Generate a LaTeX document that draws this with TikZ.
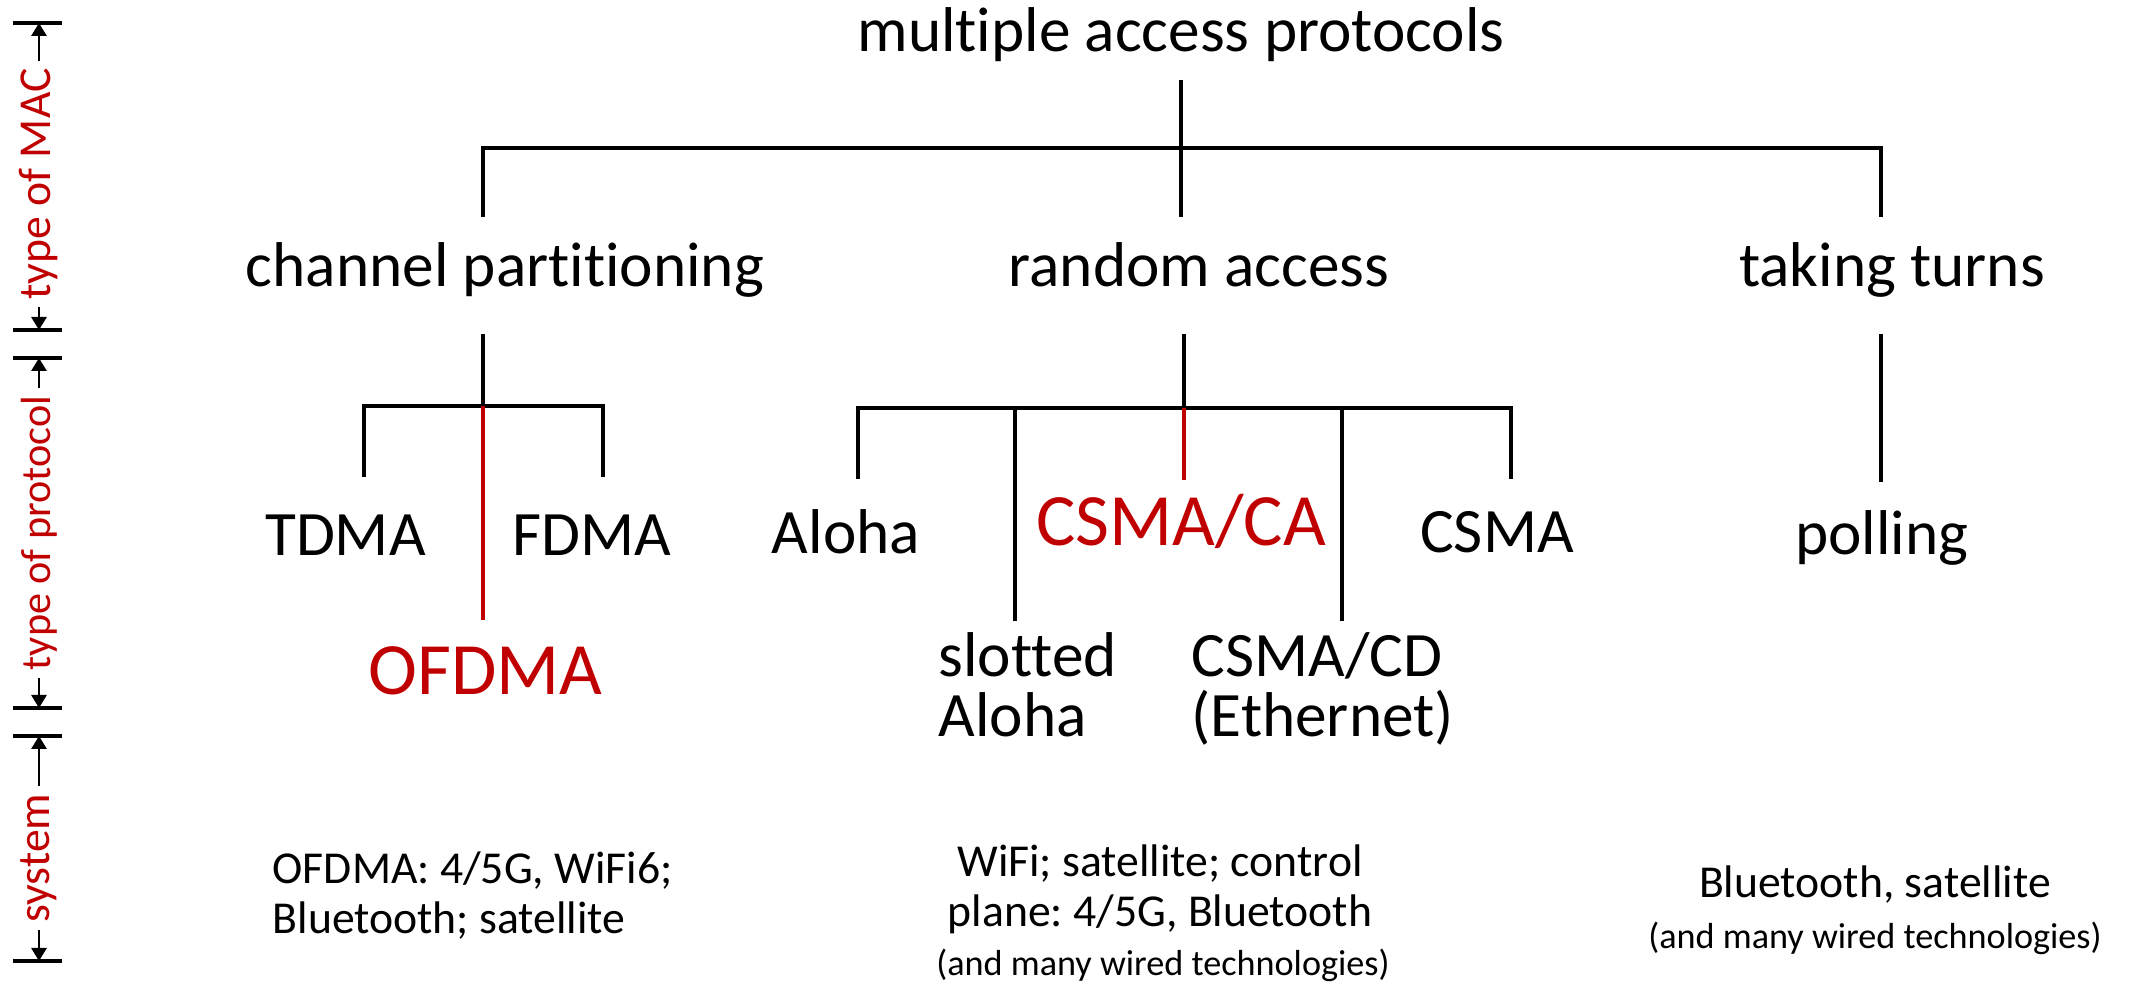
\documentclass[tikz,border=0pt]{standalone}
\usepackage{fontspec}
\setmainfont{Carlito}[Ligatures=NoCommon]
\usepackage{xcolor}
\usetikzlibrary{arrows.meta, positioning, calc}
\definecolor{macred}{RGB}{192,0,0}
\frenchspacing

\begin{document}
\begin{tikzpicture}[
  lvl/.style={font=\fontsize{18}{17.3}\selectfont, inner sep=0pt, anchor=base},
  hot/.style={font=\fontsize{21}{25}\selectfont, text=macred,
              inner sep=0pt, anchor=base},
  sys/.style={font=\fontsize{13}{14.5}\selectfont, inner sep=0pt, anchor=base},
  aside/.style={font=\fontsize{10.3}{12}\selectfont, inner sep=0pt, anchor=base},
  axis/.style={font=\fontsize{13}{15}\selectfont, text=macred,
               rotate=90, inner sep=2pt},
  tree/.style={line width=0.9pt},
  hotline/.style={tree, draw=macred},
  tick/.style={line width=0.9pt},
  dim/.style={-{Triangle[length=0.13cm,width=0.15cm]}, line width=0.8pt}
]
  \useasboundingbox (0,0) rectangle (21.44,-9.85);

  % level 1 and 2
  \node[lvl] (mac) at (11.81,-0.52) {multiple access protocols};
  \node[lvl] (part) at (5.05,-2.87) {channel partitioning};
  \node[lvl] (rand) at (11.99,-2.87) {random access};
  \node[lvl] (turns) at (18.92,-2.87) {taking turns};

  \coordinate (macDown) at (11.81,-0.80);
  \coordinate (randUp) at (11.81,-2.17);
  \coordinate (partUp) at (4.83,-2.17);
  \coordinate (turnsUp) at (18.81,-2.17);
  \draw[tree] (macDown) -- (randUp);
  \draw[tree] (partUp) -- ++(0,0.69) -| (turnsUp);

  % channel partitioning
  \node[lvl] (tdma) at (3.455,-5.56) {TDMA};
  \node[lvl] (fdma) at (5.92,-5.56) {FDMA};
  \node[hot] (ofdma) at (4.855,-6.95) {OFDMA};

  \coordinate (partDown) at (4.83,-3.34);
  \coordinate (partBar) at (4.83,-4.06);
  \coordinate (tdmaUp) at (3.64,-4.77);
  \coordinate (fdmaUp) at (6.03,-4.77);
  \coordinate (ofdmaUp) at (4.83,-6.20);
  \draw[tree] (partDown) -- (partBar);
  \draw[tree] (tdmaUp) |- (partBar) -| (fdmaUp);
  \draw[hotline] (partBar) -- (ofdmaUp);

  % random access
  \node[lvl] (aloha) at (8.46,-5.54) {Aloha};
  \node[hot] (csmaca) at (11.81,-5.46) {CSMA/CA};
  \node[lvl] (csma) at (14.97,-5.53) {CSMA};
  \node[lvl, anchor=base west, align=left] (slotted) at (9.38,-7.37)
    {slotted\\Aloha};
  \node[lvl, anchor=base west, align=left] (csmacd) at (11.91,-7.37)
    {CSMA/CD\\(Ethernet)};

  \coordinate (randDown) at (11.84,-3.34);
  \coordinate (randBar) at (11.84,-4.08);
  \coordinate (alohaUp) at (8.58,-4.79);
  \coordinate (slottedUp) at (10.15,-6.21);
  \coordinate (csmacaUp) at (11.84,-4.80);
  \coordinate (csmacdUp) at (13.42,-6.21);
  \coordinate (csmaUp) at (15.11,-4.79);
  \draw[tree] (randDown) -- (randBar);
  \draw[tree] (alohaUp) |- (randBar) -| (csmaUp);
  \draw[tree] (slottedUp) -- (slottedUp |- randBar);
  \draw[tree] (csmacdUp) -- (csmacdUp |- randBar);
  \draw[hotline] (randBar) -- (csmacaUp);

  % taking turns
  \node[lvl] (polling) at (18.82,-5.55) {polling};
  \coordinate (turnsDown) at (18.81,-3.34);
  \coordinate (pollingUp) at (18.81,-4.82);
  \draw[tree] (turnsDown) -- (pollingUp);

  % systems
  \node[sys, anchor=base west, align=left] (partSys) at (2.72,-9.34)
    {OFDMA: 4/5G, WiFi6;\\Bluetooth; satellite};
  \node[sys, align=center] (randSys) at (11.60,-9.27)
    {WiFi; satellite; control\\plane: 4/5G, Bluetooth};
  \node[aside] (randWired) at (11.63,-9.76) {(and many wired technologies)};
  \node[sys] (turnsSys) at (18.75,-8.98) {Bluetooth, satellite};
  \node[aside] (turnsWired) at (18.75,-9.49) {(and many wired technologies)};

  % left axis
  \node[axis] (axMac) at (0.39,-1.84) {type of MAC};
  \node[axis, font=\fontsize{12}{14}\selectfont] (axProto) at (0.39,-5.33)
    {type of protocol};
  \node[axis] (axSys) at (0.39,-8.58) {system};
  \coordinate (macTop) at (0.39,-0.23);
  \coordinate (macBot) at (0.39,-3.30);
  \coordinate (protoTop) at (0.39,-3.58);
  \coordinate (protoBot) at (0.39,-7.08);
  \coordinate (sysTop) at (0.39,-7.36);
  \coordinate (sysBot) at (0.39,-9.61);
  \draw[tick] (0.13,-0.23) -- (0.62,-0.23);
  \draw[tick] (0.13,-3.30) -- (0.62,-3.30);
  \draw[tick] (0.13,-3.58) -- (0.62,-3.58);
  \draw[tick] (0.13,-7.08) -- (0.62,-7.08);
  \draw[tick] (0.13,-7.36) -- (0.62,-7.36);
  \draw[tick] (0.13,-9.61) -- (0.62,-9.61);
  \draw[dim] (axMac.east) -- (macTop);
  \draw[dim] (axMac.west) -- (macBot);
  \draw[dim] (axProto.east) -- (protoTop);
  \draw[dim] (axProto.west) -- (protoBot);
  \draw[dim] (axSys.east) -- (sysTop);
  \draw[dim] (axSys.west) -- (sysBot);
\end{tikzpicture}
\end{document}
